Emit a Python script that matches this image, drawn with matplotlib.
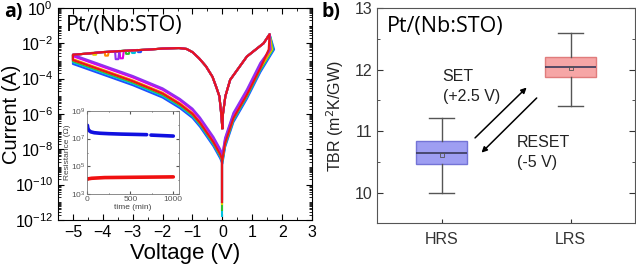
import numpy as np
import matplotlib
matplotlib.use("Agg")
import matplotlib.pyplot as plt
from matplotlib.ticker import FixedLocator, LogLocator, NullFormatter, MultipleLocator

plt.rcParams['font.family'] = ['Liberation Sans', 'DejaVu Sans']

# === Panel a: I-V loop (voltage, log10 current) ===
# LRS branch, 0 -> -5 V
lrs_neg_v = [0, -0.05, -0.1, -0.2, -0.33, -0.55, -0.78, -1.0, -1.2, -1.45, -2.0, -2.5, -3.0, -3.5, -4.0, -4.5, -5.0]
lrs_neg_i = [-6.8, -5.8, -5.0, -4.5, -3.9, -3.3, -2.85, -2.5, -2.32, -2.27, -2.3, -2.36, -2.4, -2.45, -2.5, -2.58, -2.65]
# HRS branch, -5 -> 0 V
hrs_neg_v = [-5.0, -4.0, -3.0, -2.0, -1.42, -1.0, -0.75, -0.3, -0.07, 0]
hrs_neg_i = [-2.95, -3.55, -4.15, -4.85, -5.45, -6.0, -6.5, -7.6, -8.3, -8.6]
# HRS branch, 0 -> +SET
hrs_pos_v = [0, 0.09, 0.37, 0.82, 1.27]
hrs_pos_i = [-8.6, -7.66, -6.24, -4.92, -3.41]
# LRS branch, SET peak -> 0
lrs_pos_v = [1.58, 1.38, 0.82, 0.26, 0.1, 0.02, 0]
lrs_pos_i = [-1.49, -2.0, -2.75, -4.07, -5.0, -6.0, -6.8]

# cycles: colour, HRS offset (decades), SET voltage, bottom of V=0 tail, small step on LRS branch
cycle_colors = ['#1f4fff', '#00c0e0', '#30c030', '#e0d000', '#ff8800', '#e000e0', '#9030f0', '#e8141c']
hrs_shift = [-0.22, -0.12, -0.06, 0.0, 0.05, 0.22, 0.3, 0.0]
set_v = [1.73, 1.7, 1.68, 1.66, 1.63, 1.6, 1.6, 1.55]
tail_end = [-11.0, -11.8, -11.45, -11.1, -11.0, -10.8, -10.8, -11.0]
notch_v = [-2.7, -2.9, -3.1, -4.2, -3.8, -3.3, -3.45, None]
notch_i = [-2.5, -2.55, -2.6, -2.65, -2.7, -2.85, -2.9, None]

# === Inset: retention (min, log10 ohm) ===
t_hrs = [0, 5, 15, 40, 80, 150, 250, 400, 550, 690, 715, 740, 850, 1000]
r_hrs = [7.95, 7.75, 7.6, 7.48, 7.42, 7.38, 7.35, 7.32, 7.3, 7.28, np.nan, 7.25, 7.22, 7.18]
t_lrs = [0, 50, 200, 500, 1000]
r_lrs = [4.1, 4.15, 4.2, 4.22, 4.25]

# === Panel b: TBR box stats ===
states = ['HRS', 'LRS']
tbr_lo = [10.0, 11.415]
tbr_q1 = [10.47, 11.875]
tbr_med = [10.64, 12.04]
tbr_q3 = [10.84, 12.2]
tbr_hi = [11.22, 12.595]
tbr_mean = [10.62, 12.03]
box_face = ['#9e9ef2', '#f6a6a6']
box_edge = ['#7474d6', '#e07c7c']

fig = plt.figure(figsize=(6.36, 2.65), dpi=100)

# ---------------- panel a ----------------
ax = fig.add_axes([0.0912, 0.170, 0.3994, 0.800])
for k, c in enumerate(cycle_colors):
    lv, li = list(lrs_neg_v), list(lrs_neg_i)
    if notch_v[k] is not None:
        j = int(np.searchsorted(-np.array(lv), -notch_v[k]))
        base = float(np.interp(-notch_v[k], -np.array(lrs_neg_v), lrs_neg_i))
        lv = lv[:j] + [notch_v[k], notch_v[k] - 0.03, notch_v[k] - 0.12, notch_v[k] - 0.14] + lv[j:]
        li = li[:j] + [base, notch_i[k], notch_i[k], base] + li[j:]
    hv = hrs_neg_v + hrs_pos_v + [set_v[k]]
    hi = [v + hrs_shift[k] for v in hrs_neg_i + hrs_pos_i] + [-2.35]
    v = lv + hv + lrs_pos_v
    i = li + hi + lrs_pos_i
    ax.plot(v, 10.0 ** np.array(i), color=c, lw=1.5, solid_joinstyle='round')
    ax.plot([0, 0], [10.0 ** (hrs_neg_i[-1] + hrs_shift[k]), 10.0 ** tail_end[k]], color=c, lw=1.5)
ax.plot([0, 0], [10.0 ** -8.6, 1e-11], color=cycle_colors[-1], lw=1.5)

ax.set_yscale('log')
ax.set_xlim(-5.5, 3)
ax.set_ylim(1e-12, 1)
ax.xaxis.set_major_locator(MultipleLocator(1))
ax.xaxis.set_minor_locator(MultipleLocator(0.5))
ax.yaxis.set_major_locator(FixedLocator([10.0 ** e for e in range(-12, 1, 2)]))
ax.yaxis.set_minor_locator(LogLocator(base=10, subs=np.arange(1, 10), numticks=30))
ax.yaxis.set_minor_formatter(NullFormatter())
ax.tick_params(which='both', direction='in', top=True, right=True, labelsize=11.5)
ax.tick_params(which='major', length=4)
ax.tick_params(which='minor', length=2)
ax.set_xlabel('Voltage (V)', fontsize=16, labelpad=2)
ax.set_ylabel('Current (A)', fontsize=14.5)
ax.yaxis.set_label_coords(-0.146, 0.5)
ax.text(0.03, 0.965, 'Pt/(Nb:STO)', transform=ax.transAxes, fontsize=15.5, family='Open Sans', va='top')
fig.text(0.006, 0.955, 'a)', fontsize=14, fontweight='bold', family='Open Sans', va='center')

# inset
ins = fig.add_axes([86.7 / 636, 1 - 194.3 / 265, 92.6 / 636, 83.6 / 265])
ins.plot(t_hrs, 10.0 ** np.array(r_hrs), color='#1010e0', lw=2.6, solid_capstyle='round')
ins.plot(t_lrs, 10.0 ** np.array(r_lrs), color='#f01010', lw=2.6, solid_capstyle='round')
ins.set_yscale('log')
ins.set_xlim(-8, 1070)
ins.set_ylim(1e3, 1e9)
ins.xaxis.set_major_locator(MultipleLocator(500))
ins.xaxis.set_minor_locator(MultipleLocator(250))
ins.yaxis.set_major_locator(FixedLocator([1e3, 1e5, 1e7, 1e9]))
ins.yaxis.set_minor_locator(FixedLocator([1e4, 1e6, 1e8]))
ins.yaxis.set_minor_formatter(NullFormatter())
for s in ins.spines.values():
    s.set_color('#777777')
    s.set_linewidth(0.6)
ins.tick_params(which='both', direction='in', top=True, right=True, labelsize=6, pad=1, colors='#555555')
ins.tick_params(which='major', length=2)
ins.tick_params(which='minor', length=1)
ins.set_xlabel('time (min)', fontsize=6, labelpad=1, color='#444444')
ins.set_ylabel('Resistance (\u03a9)', fontsize=6, labelpad=0, color='#444444')

# ---------------- panel b ----------------
bx = fig.add_axes([377 / 636, 1 - 223.3 / 265, 258 / 636, 215 / 265])
stats = [dict(label=s, whislo=lo, q1=q1, med=m, q3=q3, whishi=hi, mean=mn, fliers=[])
         for s, lo, q1, m, q3, hi, mn in zip(states, tbr_lo, tbr_q1, tbr_med, tbr_q3, tbr_hi, tbr_mean)]
bp = bx.bxp(stats, positions=[1, 2], widths=0.4, patch_artist=True, showmeans=True, capwidths=0.19,
            medianprops=dict(color='#3a3a5a', lw=1.2),
            whiskerprops=dict(color='#555555', lw=1.0),
            capprops=dict(color='#555555', lw=1.0),
            meanprops=dict(marker='s', markersize=2.5, markerfacecolor='none', markeredgecolor='#555555', markeredgewidth=0.6))
for p, fc, ec in zip(bp['boxes'], box_face, box_edge):
    p.set_facecolor(fc)
    p.set_edgecolor(ec)
    p.set_linewidth(1.0)
bx.set_xlim(0.5, 2.5)
bx.set_ylim(9.5, 13)
bx.yaxis.set_major_locator(MultipleLocator(1))
bx.yaxis.set_minor_locator(MultipleLocator(0.5))
for s in bx.spines.values():
    s.set_color('#555555')
bx.tick_params(which='both', direction='in', right=True, labelsize=11.5, colors='#333333')
bx.tick_params(axis='y', which='major', length=4)
bx.tick_params(axis='y', which='minor', length=2.5)
bx.tick_params(axis='x', length=3, pad=6)
bx.set_ylabel('TBR (m$^2$K/GW)', fontsize=11.5, labelpad=6, color='#222222')
bx.text(0.04, 0.965, 'Pt/(Nb:STO)', transform=bx.transAxes, fontsize=15.5, family='Open Sans', va='top')

bx.annotate('', xy=(1.66, 11.71), xytext=(1.26, 10.89),
            arrowprops=dict(arrowstyle='-|>', color='black', lw=1.1, mutation_scale=8, shrinkA=0, shrinkB=0))
bx.annotate('', xy=(1.31, 10.65), xytext=(1.738, 11.54),
            arrowprops=dict(arrowstyle='-|>', color='black', lw=1.1, mutation_scale=8, shrinkA=0, shrinkB=0))
bx.text(1.009, 11.89, 'SET', fontsize=11.5, va='center', color='#222222')
bx.text(1.009, 11.57, '(+2.5 V)', fontsize=11.5, va='center', color='#222222')
bx.text(1.583, 10.81, 'RESET', fontsize=11.5, va='center', color='#222222')
bx.text(1.583, 10.49, '(-5 V)', fontsize=11.5, va='center', color='#222222')
fig.text(0.506, 0.955, 'b)', fontsize=14, fontweight='bold', family='Open Sans', va='center')

fig.savefig('out.png', dpi=100)
